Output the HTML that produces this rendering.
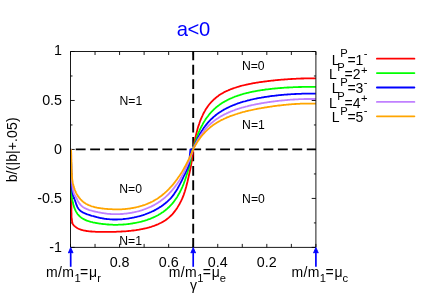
<!DOCTYPE html>
<html lang="en"><head><meta charset="utf-8"><title>a&lt;0</title>
<style>html,body{margin:0;padding:0;background:#fff;overflow:hidden}body{width:432px;height:302px;position:relative}</style></head>
<body>
<svg width="432" height="302" viewBox="0 0 432 302" style="position:absolute;left:0;top:0;display:block;will-change:transform">
<path d="M315.90,247.4 v-3.5 M315.90,51.5 v3.5 M291.36,247.4 v-3.5 M291.36,51.5 v3.5 M266.82,247.4 v-3.5 M266.82,51.5 v3.5 M242.28,247.4 v-3.5 M242.28,51.5 v3.5 M217.74,247.4 v-3.5 M217.74,51.5 v3.5 M193.20,247.4 v-3.5 M193.20,51.5 v3.5 M168.66,247.4 v-3.5 M168.66,51.5 v3.5 M144.12,247.4 v-3.5 M144.12,51.5 v3.5 M119.58,247.4 v-3.5 M119.58,51.5 v3.5 M95.04,247.4 v-3.5 M95.04,51.5 v3.5 M70.50,247.4 v-3.5 M70.50,51.5 v3.5 M70.5,247.40 h4.2 M315.9,247.40 h-4.2 M70.5,222.91 h2 M315.9,222.91 h-2 M70.5,198.43 h4.2 M315.9,198.43 h-4.2 M70.5,173.94 h2 M315.9,173.94 h-2 M70.5,149.45 h4.2 M315.9,149.45 h-4.2 M70.5,124.96 h2 M315.9,124.96 h-2 M70.5,100.47 h4.2 M315.9,100.47 h-4.2 M70.5,75.99 h2 M315.9,75.99 h-2 M70.5,51.50 h4.2 M315.9,51.50 h-4.2" fill="none" stroke="#000" stroke-width="0.9"/>
<g fill="none" stroke="#000" stroke-width="1.9">
<path d="M70.5,149.4 H315.9" stroke-dasharray="9.87 4.57" stroke-dashoffset="9.2"/>
<path d="M193.2,247.4 V51.5" stroke-dasharray="9.87 4.57" stroke-dashoffset="0.55"/>
</g>
<g fill="none" stroke-width="1.8" stroke-linejoin="round" stroke-linecap="butt">
<path stroke="#ff0000" d="M70.9,149.3 L71.1,150.8 L71.2,153.3 L71.2,155.7 L71.2,158.0 L71.2,160.3 L71.2,162.5 L71.2,164.6 L71.2,166.6 L71.2,168.6 L71.2,170.5 L71.2,172.3 L71.2,174.1 L71.2,175.8 L71.2,177.4 L71.2,179.0 L71.2,180.5 L71.3,182.0 L71.3,183.4 L71.3,184.8 L71.3,186.1 L71.3,187.3 L71.3,188.6 L71.3,189.8 L71.3,191.0 L71.3,192.2 L71.3,193.5 L71.3,194.7 L71.3,196.0 L71.3,197.3 L71.4,198.7 L71.4,200.0 L71.4,201.4 L71.4,202.8 L71.4,204.3 L71.4,205.7 L71.4,207.1 L71.4,208.5 L71.4,209.8 L71.4,211.0 L71.4,212.1 L71.5,213.1 L71.5,214.0 L71.5,214.8 L71.5,216.0 L71.5,216.8 L71.5,217.5 L71.7,218.1 L71.8,218.8 L71.9,219.4 L71.9,220.1 L72.0,220.8 L72.1,221.5 L72.2,222.1 L72.4,222.8 L72.5,223.3 L72.7,223.9 L73.0,224.3 L73.3,224.8 L73.7,225.2 L74.0,225.6 L74.5,226.0 L74.9,226.3 L75.2,226.6 L75.7,227.0 L76.1,227.3 L76.5,227.6 L77.0,227.9 L77.5,228.2 L78.0,228.5 L78.6,228.8 L79.1,229.0 L79.6,229.2 L80.2,229.4 L80.8,229.7 L81.4,229.9 L82.1,230.0 L82.6,230.2 L83.2,230.3 L83.8,230.5 L84.5,230.6 L85.2,230.7 L85.9,230.9 L86.6,231.0 L87.4,231.1 L88.2,231.2 L88.9,231.3 L89.5,231.3 L90.2,231.4 L90.9,231.5 L91.7,231.5 L92.4,231.6 L93.2,231.6 L94.0,231.7 L94.9,231.7 L95.8,231.8 L96.7,231.8 L97.6,231.8 L98.6,231.9 L99.6,231.9 L100.3,231.9 L101.0,231.9 L101.7,231.9 L102.4,231.9 L103.2,231.9 L104.0,231.9 L104.8,231.9 L105.6,231.9 L106.4,231.9 L107.3,231.9 L108.2,231.9 L109.0,231.9 L110.0,231.9 L110.9,231.9 L111.9,231.9 L112.8,231.8 L113.8,231.8 L114.9,231.8 L115.9,231.8 L117.0,231.7 L118.1,231.7 L119.2,231.6 L120.4,231.6 L121.6,231.5 L122.8,231.4 L124.0,231.4 L125.3,231.3 L126.6,231.2 L127.2,231.1 L127.9,231.1 L128.6,231.0 L129.3,230.9 L130.0,230.9 L130.7,230.8 L131.4,230.7 L132.1,230.6 L132.8,230.5 L133.5,230.5 L134.3,230.4 L135.0,230.3 L135.8,230.2 L136.6,230.0 L137.3,229.9 L138.1,229.8 L138.9,229.7 L139.7,229.5 L140.5,229.4 L141.4,229.2 L142.2,229.1 L143.0,228.9 L143.9,228.7 L144.8,228.5 L145.6,228.3 L146.5,228.1 L147.4,227.9 L148.3,227.6 L149.2,227.4 L150.1,227.1 L151.1,226.8 L152.0,226.5 L153.0,226.2 L154.0,225.9 L154.9,225.5 L155.9,225.1 L156.9,224.7 L158.0,224.3 L159.0,223.8 L160.0,223.3 L161.1,222.8 L162.1,222.2 L163.2,221.6 L164.3,220.9 L165.4,220.2 L166.5,219.4 L167.6,218.6 L168.8,217.6 L169.9,216.6 L171.1,215.5 L172.3,214.3 L173.5,212.9 L174.7,211.4 L175.9,209.8 L177.2,207.9 L178.4,205.9 L179.7,203.7 L181.0,201.2 L182.3,198.4 L183.6,195.1 L184.9,191.3 L186.2,186.8 L187.6,181.3 L189.0,175.0 L190.4,168.8 L191.8,161.0 L193.2,149.3 L194.0,144.8 L194.7,140.8 L195.5,137.1 L196.3,133.8 L197.1,130.8 L197.8,128.1 L198.6,125.6 L199.4,123.3 L200.1,121.1 L200.9,119.2 L201.7,117.3 L202.5,115.6 L203.2,114.0 L204.0,112.5 L204.8,111.1 L205.5,109.8 L206.3,108.6 L207.1,107.4 L207.9,106.3 L208.6,105.3 L209.4,104.3 L210.2,103.3 L210.9,102.5 L211.7,101.6 L212.5,100.8 L213.2,100.1 L214.0,99.3 L214.8,98.7 L215.6,98.0 L216.3,97.4 L217.1,96.8 L217.9,96.2 L218.6,95.6 L219.4,95.1 L220.2,94.6 L221.0,94.1 L221.7,93.6 L222.5,93.2 L223.3,92.7 L224.0,92.3 L224.8,91.9 L225.6,91.5 L226.4,91.2 L227.1,90.8 L227.9,90.5 L228.7,90.1 L229.4,89.8 L230.2,89.5 L231.0,89.2 L231.8,88.9 L232.5,88.6 L233.3,88.3 L234.1,88.0 L234.8,87.8 L235.6,87.5 L236.4,87.3 L237.2,87.0 L237.9,86.8 L238.7,86.6 L239.5,86.4 L240.2,86.1 L241.0,85.9 L241.8,85.7 L242.5,85.5 L243.3,85.3 L244.1,85.2 L244.9,85.0 L245.6,84.8 L246.4,84.6 L247.2,84.5 L247.9,84.3 L248.7,84.1 L249.5,84.0 L250.3,83.8 L251.0,83.7 L251.8,83.5 L252.6,83.4 L253.3,83.2 L254.1,83.1 L254.9,83.0 L255.7,82.8 L256.4,82.7 L257.2,82.6 L258.0,82.5 L258.7,82.3 L259.5,82.2 L260.3,82.1 L261.1,82.0 L261.8,81.9 L262.6,81.8 L263.4,81.7 L264.1,81.6 L264.9,81.5 L265.7,81.4 L266.5,81.3 L267.2,81.2 L268.0,81.1 L268.8,81.0 L269.5,80.9 L270.3,80.8 L271.1,80.7 L271.8,80.6 L272.6,80.6 L273.4,80.5 L274.2,80.4 L274.9,80.3 L275.7,80.2 L276.5,80.2 L277.2,80.1 L278.0,80.0 L278.8,79.9 L279.6,79.9 L280.3,79.8 L281.1,79.7 L281.9,79.7 L282.6,79.6 L283.4,79.6 L284.2,79.5 L285.0,79.4 L285.7,79.4 L286.5,79.3 L287.3,79.3 L288.0,79.2 L288.8,79.2 L289.6,79.1 L290.4,79.1 L291.1,79.0 L291.9,79.0 L292.7,78.9 L293.4,78.9 L294.2,78.8 L295.0,78.8 L295.8,78.8 L296.5,78.7 L297.3,78.7 L298.1,78.7 L298.8,78.6 L299.6,78.6 L300.4,78.6 L301.1,78.5 L301.9,78.5 L302.7,78.5 L303.5,78.5 L304.2,78.4 L305.0,78.4 L305.8,78.4 L306.5,78.4 L307.3,78.4 L308.1,78.4 L308.9,78.4 L309.6,78.4 L310.4,78.4 L311.2,78.4 L311.9,78.4 L312.7,78.4 L313.5,78.4 L314.3,78.4 L315.0,78.4 L315.8,78.4 L315.8,78.4"/>
<path stroke="#00ff00" d="M70.9,149.3 L71.1,150.2 L71.1,151.5 L71.1,152.9 L71.1,153.6 L71.1,154.3 L71.1,155.1 L71.1,155.8 L71.1,156.6 L71.1,157.4 L71.1,158.2 L71.1,158.9 L71.1,159.7 L71.1,160.5 L71.1,161.3 L71.2,162.1 L71.2,162.9 L71.2,163.7 L71.2,164.5 L71.2,165.3 L71.2,166.1 L71.2,166.9 L71.2,167.6 L71.2,168.4 L71.2,169.2 L71.2,169.9 L71.2,170.7 L71.2,171.4 L71.2,172.1 L71.2,172.8 L71.3,173.5 L71.3,174.2 L71.3,175.6 L71.3,176.9 L71.3,178.2 L71.3,179.4 L71.3,180.6 L71.4,181.8 L71.4,182.9 L71.4,183.9 L71.4,184.9 L71.4,185.9 L71.4,186.8 L71.5,187.6 L71.5,188.4 L71.5,189.2 L71.5,189.9 L71.6,190.9 L71.6,191.8 L71.6,192.7 L71.7,193.4 L71.7,194.1 L71.8,195.0 L71.8,195.8 L71.9,196.5 L71.9,197.1 L72.0,197.9 L72.1,198.5 L72.2,199.2 L72.3,199.8 L72.4,200.4 L72.5,201.0 L72.6,201.6 L72.8,202.2 L72.9,202.8 L73.1,203.4 L73.2,204.1 L73.4,204.7 L73.6,205.4 L73.8,206.0 L74.0,206.7 L74.2,207.4 L74.4,207.9 L74.6,208.4 L74.8,208.9 L75.0,209.4 L75.2,209.9 L75.4,210.4 L75.7,210.9 L75.9,211.4 L76.2,211.9 L76.5,212.4 L76.8,212.9 L77.1,213.3 L77.4,213.8 L77.7,214.2 L78.1,214.7 L78.5,215.1 L78.9,215.5 L79.3,215.9 L79.7,216.4 L80.2,216.8 L80.6,217.1 L81.1,217.5 L81.7,217.9 L82.2,218.3 L82.8,218.6 L83.2,218.9 L83.7,219.1 L84.2,219.4 L84.7,219.6 L85.2,219.9 L85.7,220.1 L86.2,220.4 L86.8,220.6 L87.4,220.8 L88.0,221.0 L88.7,221.2 L89.3,221.4 L90.0,221.6 L90.7,221.8 L91.4,222.0 L92.2,222.2 L92.9,222.4 L93.8,222.6 L94.6,222.7 L95.5,222.9 L96.1,223.0 L96.7,223.1 L97.3,223.2 L97.9,223.3 L98.6,223.4 L99.2,223.5 L99.9,223.6 L100.6,223.7 L101.3,223.8 L102.1,223.9 L102.8,224.0 L103.6,224.1 L104.4,224.2 L105.2,224.2 L106.0,224.3 L106.9,224.4 L107.7,224.5 L108.6,224.5 L109.5,224.6 L110.4,224.6 L111.4,224.7 L112.3,224.7 L113.3,224.8 L114.4,224.8 L115.4,224.8 L116.5,224.8 L117.5,224.8 L118.7,224.7 L119.8,224.7 L121.0,224.6 L122.2,224.6 L123.4,224.5 L124.6,224.4 L125.9,224.3 L126.6,224.2 L127.2,224.1 L127.9,224.1 L128.6,224.0 L129.3,223.9 L130.0,223.8 L130.7,223.7 L131.4,223.6 L132.1,223.5 L132.8,223.4 L133.5,223.2 L134.3,223.1 L135.0,223.0 L135.8,222.8 L136.6,222.7 L137.3,222.5 L138.1,222.3 L138.9,222.2 L139.7,222.0 L140.5,221.8 L141.4,221.6 L142.2,221.3 L143.0,221.1 L143.9,220.9 L144.8,220.6 L145.6,220.3 L146.5,220.1 L147.4,219.8 L148.3,219.4 L149.2,219.1 L150.1,218.8 L151.1,218.4 L152.0,218.0 L153.0,217.6 L154.0,217.2 L154.9,216.7 L155.9,216.2 L156.9,215.7 L158.0,215.2 L159.0,214.6 L160.0,214.0 L161.1,213.3 L162.1,212.6 L163.2,211.9 L164.3,211.1 L165.4,210.2 L166.5,209.3 L167.6,208.3 L168.8,207.3 L169.9,206.1 L171.1,204.9 L172.3,203.6 L173.5,202.1 L174.7,200.5 L175.9,198.8 L177.2,196.9 L178.4,194.8 L179.7,192.5 L181.0,189.9 L182.3,187.1 L183.6,184.0 L184.9,180.5 L186.2,176.5 L187.6,172.0 L189.0,167.7 L190.4,161.8 L191.8,149.3 L193.2,149.3 L194.0,146.4 L194.7,143.7 L195.5,141.2 L196.3,138.9 L197.1,136.7 L197.8,134.7 L198.6,132.7 L199.4,130.9 L200.1,129.2 L200.9,127.6 L201.7,126.0 L202.5,124.6 L203.2,123.2 L204.0,121.9 L204.8,120.6 L205.5,119.4 L206.3,118.3 L207.1,117.2 L207.9,116.2 L208.6,115.2 L209.4,114.2 L210.2,113.3 L210.9,112.5 L211.7,111.6 L212.5,110.8 L213.2,110.1 L214.0,109.3 L214.8,108.6 L215.6,107.9 L216.3,107.3 L217.1,106.6 L217.9,106.0 L218.6,105.5 L219.4,104.9 L220.2,104.3 L221.0,103.8 L221.7,103.3 L222.5,102.8 L223.3,102.3 L224.0,101.9 L224.8,101.4 L225.6,101.0 L226.4,100.6 L227.1,100.2 L227.9,99.8 L228.7,99.4 L229.4,99.0 L230.2,98.7 L231.0,98.3 L231.8,98.0 L232.5,97.7 L233.3,97.3 L234.1,97.0 L234.8,96.7 L235.6,96.5 L236.4,96.2 L237.2,95.9 L237.9,95.6 L238.7,95.4 L239.5,95.1 L240.2,94.9 L241.0,94.6 L241.8,94.4 L242.5,94.2 L243.3,94.0 L244.1,93.7 L244.9,93.5 L245.6,93.3 L246.4,93.1 L247.2,92.9 L247.9,92.8 L248.7,92.6 L249.5,92.4 L250.3,92.2 L251.0,92.0 L251.8,91.9 L252.6,91.7 L253.3,91.6 L254.1,91.4 L254.9,91.3 L255.7,91.1 L256.4,91.0 L257.2,90.8 L258.0,90.7 L258.7,90.6 L259.5,90.5 L260.3,90.3 L261.1,90.2 L261.8,90.1 L262.6,90.0 L263.4,89.9 L264.1,89.8 L264.9,89.6 L265.7,89.5 L266.5,89.4 L267.2,89.3 L268.0,89.3 L268.8,89.2 L269.5,89.1 L270.3,89.0 L271.1,88.9 L271.8,88.8 L272.6,88.7 L273.4,88.6 L274.2,88.6 L274.9,88.5 L275.7,88.4 L276.5,88.3 L277.2,88.3 L278.0,88.2 L278.8,88.1 L279.6,88.1 L280.3,88.0 L281.1,88.0 L281.9,87.9 L282.6,87.8 L283.4,87.8 L284.2,87.7 L285.0,87.7 L285.7,87.6 L286.5,87.6 L287.3,87.5 L288.0,87.5 L288.8,87.5 L289.6,87.4 L290.4,87.4 L291.1,87.3 L291.9,87.3 L292.7,87.3 L293.4,87.2 L294.2,87.2 L295.0,87.2 L295.8,87.1 L296.5,87.1 L297.3,87.1 L298.1,87.1 L298.8,87.0 L299.6,87.0 L300.4,87.0 L301.1,87.0 L301.9,86.9 L302.7,86.9 L303.5,86.9 L304.2,86.9 L305.0,86.9 L305.8,86.9 L306.5,86.9 L307.3,86.8 L308.1,86.8 L308.9,86.8 L309.6,86.8 L310.4,86.8 L311.2,86.8 L311.9,86.8 L312.7,86.8 L313.5,86.8 L314.3,86.8 L315.0,86.8 L315.8,86.8 L315.8,86.8"/>
<path stroke="#0000ff" d="M70.9,149.3 L71.0,150.0 L71.0,150.8 L71.0,151.6 L71.0,152.5 L71.0,153.4 L71.0,154.3 L71.0,155.3 L71.0,156.3 L71.1,157.3 L71.1,158.0 L71.1,158.7 L71.1,159.5 L71.1,160.2 L71.1,160.9 L71.1,161.6 L71.1,162.3 L71.1,163.1 L71.1,163.8 L71.2,164.5 L71.2,165.2 L71.2,166.0 L71.2,166.7 L71.2,167.4 L71.2,168.1 L71.2,168.8 L71.3,169.5 L71.3,170.2 L71.3,170.9 L71.3,171.6 L71.3,172.6 L71.3,173.6 L71.4,174.6 L71.4,175.6 L71.4,176.5 L71.5,177.5 L71.5,178.4 L71.5,179.3 L71.5,180.1 L71.6,181.0 L71.6,181.8 L71.7,182.6 L71.7,183.4 L71.7,184.2 L71.8,184.9 L71.8,185.6 L71.9,186.3 L71.9,187.0 L72.0,187.8 L72.0,188.7 L72.1,189.4 L72.2,190.2 L72.3,190.9 L72.3,191.6 L72.4,192.2 L72.5,193.0 L72.7,193.7 L72.8,194.3 L72.9,194.9 L73.1,195.5 L73.3,196.1 L73.5,196.6 L73.8,197.2 L74.0,197.7 L74.2,198.2 L74.4,198.8 L74.6,199.4 L74.8,199.9 L75.0,200.5 L75.2,201.2 L75.4,201.7 L75.6,202.3 L75.8,202.9 L76.0,203.5 L76.2,204.1 L76.4,204.7 L76.6,205.2 L76.8,205.8 L77.1,206.3 L77.3,206.9 L77.6,207.4 L77.8,207.8 L78.1,208.2 L78.5,208.8 L78.9,209.3 L79.3,209.7 L79.7,210.2 L80.2,210.6 L80.6,211.0 L81.1,211.4 L81.7,211.7 L82.2,212.0 L82.8,212.4 L83.4,212.7 L84.0,213.0 L84.5,213.2 L85.0,213.4 L85.5,213.6 L86.1,213.8 L86.6,214.1 L87.2,214.3 L87.8,214.5 L88.4,214.7 L89.1,214.9 L89.8,215.1 L90.4,215.3 L91.2,215.6 L91.9,215.8 L92.7,216.0 L93.5,216.2 L94.0,216.4 L94.6,216.5 L95.2,216.7 L95.8,216.9 L96.4,217.0 L97.0,217.2 L97.6,217.3 L98.2,217.5 L98.9,217.6 L99.6,217.8 L100.3,218.0 L101.0,218.1 L101.7,218.2 L102.4,218.4 L103.2,218.5 L104.0,218.6 L104.8,218.8 L105.6,218.9 L106.4,219.0 L107.3,219.1 L108.2,219.2 L109.0,219.2 L110.0,219.3 L110.9,219.4 L111.9,219.4 L112.8,219.5 L113.8,219.5 L114.9,219.5 L115.9,219.5 L117.0,219.5 L118.1,219.4 L119.2,219.4 L120.4,219.3 L121.6,219.3 L122.8,219.2 L124.0,219.0 L125.3,218.9 L125.9,218.8 L126.6,218.7 L127.2,218.6 L127.9,218.6 L128.6,218.5 L129.3,218.3 L130.0,218.2 L130.7,218.1 L131.4,218.0 L132.1,217.8 L132.8,217.7 L133.5,217.6 L134.3,217.4 L135.0,217.2 L135.8,217.1 L136.6,216.9 L137.3,216.7 L138.1,216.5 L138.9,216.3 L139.7,216.1 L140.5,215.8 L141.4,215.6 L142.2,215.3 L143.0,215.1 L143.9,214.8 L144.8,214.5 L145.6,214.2 L146.5,213.8 L147.4,213.5 L148.3,213.2 L149.2,212.8 L150.1,212.4 L151.1,212.0 L152.0,211.5 L153.0,211.1 L154.0,210.6 L154.9,210.1 L155.9,209.6 L156.9,209.0 L158.0,208.4 L159.0,207.8 L160.0,207.1 L161.1,206.5 L162.1,205.7 L163.2,204.9 L164.3,204.1 L165.4,203.2 L166.5,202.3 L167.6,201.3 L168.8,200.2 L169.9,199.1 L171.1,197.8 L172.3,196.4 L173.5,194.9 L174.7,193.1 L175.9,191.3 L177.2,189.2 L178.4,187.0 L179.7,184.6 L181.0,182.1 L182.3,179.5 L183.6,176.7 L184.9,174.0 L186.2,171.2 L187.6,168.2 L189.0,164.6 L190.4,149.3 L191.8,149.3 L193.2,149.3 L194.0,147.2 L194.7,145.2 L195.5,143.3 L196.3,141.5 L197.1,139.8 L197.8,138.1 L198.6,136.6 L199.4,135.1 L200.1,133.7 L200.9,132.4 L201.7,131.1 L202.5,129.9 L203.2,128.8 L204.0,127.6 L204.8,126.6 L205.5,125.6 L206.3,124.6 L207.1,123.6 L207.9,122.7 L208.6,121.9 L209.4,121.0 L210.2,120.2 L210.9,119.4 L211.7,118.7 L212.5,118.0 L213.2,117.3 L214.0,116.6 L214.8,116.0 L215.6,115.3 L216.3,114.7 L217.1,114.1 L217.9,113.6 L218.6,113.0 L219.4,112.5 L220.2,112.0 L221.0,111.5 L221.7,111.0 L222.5,110.5 L223.3,110.1 L224.0,109.6 L224.8,109.2 L225.6,108.8 L226.4,108.4 L227.1,108.0 L227.9,107.6 L228.7,107.2 L229.4,106.8 L230.2,106.5 L231.0,106.2 L231.8,105.8 L232.5,105.5 L233.3,105.2 L234.1,104.9 L234.8,104.6 L235.6,104.3 L236.4,104.0 L237.2,103.7 L237.9,103.4 L238.7,103.2 L239.5,102.9 L240.2,102.7 L241.0,102.4 L241.8,102.2 L242.5,101.9 L243.3,101.7 L244.1,101.5 L244.9,101.3 L245.6,101.1 L246.4,100.8 L247.2,100.6 L247.9,100.4 L248.7,100.3 L249.5,100.1 L250.3,99.9 L251.0,99.7 L251.8,99.5 L252.6,99.3 L253.3,99.2 L254.1,99.0 L254.9,98.8 L255.7,98.7 L256.4,98.5 L257.2,98.4 L258.0,98.2 L258.7,98.1 L259.5,97.9 L260.3,97.8 L261.1,97.7 L261.8,97.5 L262.6,97.4 L263.4,97.3 L264.1,97.1 L264.9,97.0 L265.7,96.9 L266.5,96.8 L267.2,96.7 L268.0,96.6 L268.8,96.5 L269.5,96.4 L270.3,96.2 L271.1,96.1 L271.8,96.0 L272.6,95.9 L273.4,95.9 L274.2,95.8 L274.9,95.7 L275.7,95.6 L276.5,95.5 L277.2,95.4 L278.0,95.3 L278.8,95.2 L279.6,95.2 L280.3,95.1 L281.1,95.0 L281.9,94.9 L282.6,94.9 L283.4,94.8 L284.2,94.7 L285.0,94.7 L285.7,94.6 L286.5,94.6 L287.3,94.5 L288.0,94.4 L288.8,94.4 L289.6,94.3 L290.4,94.3 L291.1,94.2 L291.9,94.2 L292.7,94.1 L293.4,94.1 L294.2,94.1 L295.0,94.0 L295.8,94.0 L296.5,93.9 L297.3,93.9 L298.1,93.9 L298.8,93.8 L299.6,93.8 L300.4,93.8 L301.1,93.8 L301.9,93.7 L302.7,93.7 L303.5,93.7 L304.2,93.7 L305.0,93.7 L305.8,93.7 L306.5,93.6 L307.3,93.6 L308.1,93.6 L308.9,93.6 L309.6,93.6 L310.4,93.6 L311.2,93.6 L311.9,93.6 L312.7,93.6 L313.5,93.6 L314.3,93.7 L315.0,93.7 L315.8,93.7 L315.8,93.7"/>
<path stroke="#c080ff" d="M70.9,149.3 L71.0,150.1 L71.0,150.8 L71.0,151.6 L71.0,152.4 L71.1,153.2 L71.1,154.1 L71.1,154.9 L71.1,155.6 L71.1,156.4 L71.1,157.2 L71.1,158.1 L71.2,158.9 L71.2,159.8 L71.2,160.7 L71.2,161.6 L71.2,162.5 L71.3,163.4 L71.3,164.3 L71.3,165.2 L71.3,166.1 L71.4,167.0 L71.4,167.9 L71.4,168.9 L71.4,169.8 L71.5,170.6 L71.5,171.5 L71.5,172.4 L71.6,173.3 L71.6,174.1 L71.6,175.0 L71.7,175.8 L71.7,176.6 L71.8,177.4 L71.8,178.2 L71.8,179.0 L71.9,179.7 L71.9,180.5 L72.0,181.2 L72.0,181.9 L72.1,182.6 L72.1,183.3 L72.2,183.9 L72.3,184.6 L72.3,185.4 L72.4,186.2 L72.5,187.0 L72.6,187.7 L72.7,188.4 L72.8,189.1 L72.9,189.8 L73.1,190.4 L73.2,191.0 L73.4,191.7 L73.5,192.3 L73.7,193.0 L73.9,193.5 L74.1,194.1 L74.4,194.5 L74.7,195.1 L75.0,195.6 L75.2,196.0 L75.5,196.4 L75.9,197.0 L76.1,197.4 L76.4,197.9 L76.7,198.5 L77.0,199.1 L77.2,199.6 L77.5,200.1 L77.7,200.6 L78.0,201.2 L78.3,201.7 L78.6,202.2 L78.9,202.7 L79.2,203.1 L79.5,203.6 L79.8,204.0 L80.2,204.4 L80.5,204.9 L80.9,205.2 L81.3,205.6 L81.7,206.0 L82.1,206.3 L82.5,206.7 L82.9,207.0 L83.4,207.3 L83.8,207.6 L84.3,207.9 L84.8,208.2 L85.3,208.4 L85.9,208.7 L86.4,208.9 L87.0,209.2 L87.6,209.4 L88.2,209.6 L88.9,209.9 L89.5,210.1 L90.2,210.3 L90.9,210.5 L91.7,210.7 L92.4,210.9 L93.2,211.1 L94.0,211.3 L94.9,211.5 L95.5,211.6 L96.1,211.8 L96.7,211.9 L97.3,212.0 L97.9,212.2 L98.6,212.3 L99.2,212.4 L99.9,212.6 L100.6,212.7 L101.3,212.8 L102.1,213.0 L102.8,213.1 L103.6,213.2 L104.4,213.3 L105.2,213.4 L106.0,213.6 L106.9,213.7 L107.7,213.8 L108.6,213.8 L109.5,213.9 L110.4,214.0 L111.4,214.1 L112.3,214.1 L113.3,214.1 L114.4,214.2 L115.4,214.2 L116.5,214.2 L117.5,214.2 L118.7,214.1 L119.8,214.1 L121.0,214.0 L122.2,214.0 L123.4,213.9 L124.6,213.7 L125.3,213.7 L125.9,213.6 L126.6,213.5 L127.2,213.4 L127.9,213.3 L128.6,213.2 L129.3,213.1 L130.0,213.0 L130.7,212.9 L131.4,212.8 L132.1,212.6 L132.8,212.5 L133.5,212.4 L134.3,212.2 L135.0,212.0 L135.8,211.9 L136.6,211.7 L137.3,211.5 L138.1,211.3 L138.9,211.1 L139.7,210.8 L140.5,210.6 L141.4,210.3 L142.2,210.1 L143.0,209.8 L143.9,209.5 L144.8,209.2 L145.6,208.9 L146.5,208.5 L147.4,208.2 L148.3,207.8 L149.2,207.4 L150.1,207.0 L151.1,206.6 L152.0,206.1 L153.0,205.6 L154.0,205.1 L154.9,204.6 L155.9,204.0 L156.9,203.4 L158.0,202.8 L159.0,202.1 L160.0,201.4 L161.1,200.6 L162.1,199.8 L163.2,199.0 L164.3,198.1 L165.4,197.2 L166.5,196.2 L167.6,195.1 L168.8,194.0 L169.9,192.7 L171.1,191.5 L172.3,190.1 L173.5,188.7 L174.7,187.1 L175.9,185.5 L177.2,183.7 L178.4,181.9 L179.7,179.9 L181.0,177.7 L182.3,175.4 L183.6,173.0 L184.9,170.3 L186.2,167.5 L187.6,164.4 L189.0,161.1 L190.4,157.5 L191.8,153.6 L193.2,149.3 L194.0,147.5 L194.7,145.8 L195.5,144.2 L196.3,142.7 L197.1,141.2 L197.8,139.9 L198.6,138.5 L199.4,137.3 L200.1,136.1 L200.9,134.9 L201.7,133.8 L202.5,132.8 L203.2,131.7 L204.0,130.8 L204.8,129.8 L205.5,128.9 L206.3,128.1 L207.1,127.2 L207.9,126.4 L208.6,125.7 L209.4,124.9 L210.2,124.2 L210.9,123.5 L211.7,122.8 L212.5,122.2 L213.2,121.6 L214.0,121.0 L214.8,120.4 L215.6,119.8 L216.3,119.3 L217.1,118.7 L217.9,118.2 L218.6,117.7 L219.4,117.2 L220.2,116.8 L221.0,116.3 L221.7,115.9 L222.5,115.4 L223.3,115.0 L224.0,114.6 L224.8,114.2 L225.6,113.9 L226.4,113.5 L227.1,113.1 L227.9,112.8 L228.7,112.4 L229.4,112.1 L230.2,111.8 L231.0,111.4 L231.8,111.1 L232.5,110.8 L233.3,110.5 L234.1,110.3 L234.8,110.0 L235.6,109.7 L236.4,109.4 L237.2,109.2 L237.9,108.9 L238.7,108.7 L239.5,108.4 L240.2,108.2 L241.0,108.0 L241.8,107.7 L242.5,107.5 L243.3,107.3 L244.1,107.1 L244.9,106.9 L245.6,106.7 L246.4,106.5 L247.2,106.3 L247.9,106.1 L248.7,105.9 L249.5,105.7 L250.3,105.5 L251.0,105.4 L251.8,105.2 L252.6,105.0 L253.3,104.8 L254.1,104.7 L254.9,104.5 L255.7,104.4 L256.4,104.2 L257.2,104.1 L258.0,103.9 L258.7,103.8 L259.5,103.6 L260.3,103.5 L261.1,103.4 L261.8,103.2 L262.6,103.1 L263.4,103.0 L264.1,102.8 L264.9,102.7 L265.7,102.6 L266.5,102.5 L267.2,102.3 L268.0,102.2 L268.8,102.1 L269.5,102.0 L270.3,101.9 L271.1,101.8 L271.8,101.7 L272.6,101.6 L273.4,101.5 L274.2,101.4 L274.9,101.3 L275.7,101.2 L276.5,101.1 L277.2,101.0 L278.0,100.9 L278.8,100.8 L279.6,100.7 L280.3,100.7 L281.1,100.6 L281.9,100.5 L282.6,100.4 L283.4,100.3 L284.2,100.3 L285.0,100.2 L285.7,100.1 L286.5,100.1 L287.3,100.0 L288.0,99.9 L288.8,99.9 L289.6,99.8 L290.4,99.7 L291.1,99.7 L291.9,99.6 L292.7,99.6 L293.4,99.5 L294.2,99.5 L295.0,99.4 L295.8,99.4 L296.5,99.3 L297.3,99.3 L298.1,99.3 L298.8,99.2 L299.6,99.2 L300.4,99.2 L301.1,99.1 L301.9,99.1 L302.7,99.1 L303.5,99.1 L304.2,99.0 L305.0,99.0 L305.8,99.0 L306.5,99.0 L307.3,99.0 L308.1,99.0 L308.9,99.0 L309.6,99.0 L310.4,99.0 L311.2,99.0 L311.9,99.0 L312.7,99.0 L313.5,99.0 L314.3,99.0 L315.0,99.0 L315.8,99.0 L315.8,99.0"/>
<path stroke="#ffa500" d="M70.9,149.3 L71.0,150.0 L71.1,150.7 L71.1,151.4 L71.1,152.2 L71.1,153.1 L71.1,153.8 L71.1,154.5 L71.2,155.3 L71.2,156.1 L71.2,156.9 L71.2,157.8 L71.2,158.6 L71.3,159.5 L71.3,160.4 L71.3,161.3 L71.3,162.2 L71.4,163.1 L71.4,164.0 L71.4,164.8 L71.4,165.7 L71.5,166.6 L71.5,167.5 L71.5,168.3 L71.6,169.1 L71.6,170.0 L71.6,170.8 L71.7,171.6 L71.7,172.3 L71.8,173.1 L71.8,173.8 L71.8,174.5 L71.9,175.2 L71.9,175.9 L72.0,176.7 L72.1,177.5 L72.1,178.3 L72.2,179.0 L72.3,179.7 L72.4,180.3 L72.5,180.9 L72.6,181.7 L72.7,182.4 L72.9,183.1 L73.0,183.7 L73.2,184.4 L73.3,185.1 L73.5,185.7 L73.7,186.4 L73.9,187.0 L74.0,187.6 L74.2,188.1 L74.4,188.7 L74.6,189.2 L74.8,189.8 L75.0,190.3 L75.2,190.9 L75.5,191.4 L75.7,192.0 L76.0,192.6 L76.3,193.1 L76.5,193.7 L76.8,194.2 L77.2,194.8 L77.5,195.3 L77.8,195.9 L78.2,196.4 L78.6,196.9 L78.9,197.3 L79.2,197.8 L79.5,198.2 L79.8,198.5 L80.2,198.9 L80.5,199.3 L80.9,199.7 L81.3,200.1 L81.7,200.5 L82.1,200.9 L82.5,201.2 L82.9,201.6 L83.4,202.0 L83.8,202.3 L84.3,202.7 L84.8,203.0 L85.3,203.3 L85.9,203.7 L86.4,204.0 L87.0,204.3 L87.6,204.6 L88.2,204.9 L88.9,205.2 L89.5,205.5 L90.2,205.7 L90.9,206.0 L91.7,206.3 L92.4,206.5 L93.2,206.7 L94.0,207.0 L94.6,207.1 L95.2,207.3 L95.8,207.4 L96.4,207.5 L97.0,207.7 L97.6,207.8 L98.2,207.9 L98.9,208.0 L99.6,208.1 L100.3,208.2 L101.0,208.3 L101.7,208.4 L102.4,208.5 L103.2,208.6 L104.0,208.7 L104.8,208.8 L105.6,208.9 L106.4,208.9 L107.3,209.0 L108.2,209.1 L109.0,209.1 L110.0,209.2 L110.9,209.2 L111.9,209.2 L112.8,209.3 L113.8,209.3 L114.9,209.3 L115.9,209.4 L117.0,209.4 L118.1,209.4 L119.2,209.3 L120.4,209.3 L121.6,209.3 L122.8,209.2 L124.0,209.1 L125.3,209.0 L125.9,208.9 L126.6,208.9 L127.2,208.8 L127.9,208.7 L128.6,208.6 L129.3,208.6 L130.0,208.5 L130.7,208.4 L131.4,208.2 L132.1,208.1 L132.8,208.0 L133.5,207.9 L134.3,207.7 L135.0,207.6 L135.8,207.4 L136.6,207.2 L137.3,207.0 L138.1,206.8 L138.9,206.6 L139.7,206.4 L140.5,206.2 L141.4,205.9 L142.2,205.7 L143.0,205.4 L143.9,205.1 L144.8,204.8 L145.6,204.5 L146.5,204.1 L147.4,203.8 L148.3,203.4 L149.2,203.0 L150.1,202.6 L151.1,202.1 L152.0,201.7 L153.0,201.2 L154.0,200.6 L154.9,200.1 L155.9,199.5 L156.9,198.9 L158.0,198.2 L159.0,197.5 L160.0,196.8 L161.1,196.0 L162.1,195.2 L163.2,194.3 L164.3,193.4 L165.4,192.4 L166.5,191.4 L167.6,190.3 L168.8,189.1 L169.9,187.9 L171.1,186.7 L172.3,185.3 L173.5,183.9 L174.7,182.4 L175.9,180.8 L177.2,179.1 L178.4,177.3 L179.7,175.5 L181.0,173.5 L182.3,171.4 L183.6,169.1 L184.9,166.8 L186.2,164.3 L187.6,161.6 L189.0,158.8 L190.4,155.8 L191.8,152.7 L193.2,149.3 L194.0,147.8 L194.7,146.3 L195.5,145.0 L196.3,143.7 L197.1,142.4 L197.8,141.2 L198.6,140.1 L199.4,139.0 L200.1,137.9 L200.9,136.9 L201.7,135.9 L202.5,135.0 L203.2,134.1 L204.0,133.3 L204.8,132.4 L205.5,131.6 L206.3,130.9 L207.1,130.1 L207.9,129.4 L208.6,128.7 L209.4,128.1 L210.2,127.4 L210.9,126.8 L211.7,126.2 L212.5,125.6 L213.2,125.1 L214.0,124.5 L214.8,124.0 L215.6,123.5 L216.3,123.0 L217.1,122.5 L217.9,122.1 L218.6,121.6 L219.4,121.2 L220.2,120.8 L221.0,120.3 L221.7,119.9 L222.5,119.6 L223.3,119.2 L224.0,118.8 L224.8,118.5 L225.6,118.1 L226.4,117.8 L227.1,117.4 L227.9,117.1 L228.7,116.8 L229.4,116.5 L230.2,116.2 L231.0,115.9 L231.8,115.6 L232.5,115.3 L233.3,115.1 L234.1,114.8 L234.8,114.5 L235.6,114.3 L236.4,114.0 L237.2,113.8 L237.9,113.5 L238.7,113.3 L239.5,113.1 L240.2,112.9 L241.0,112.6 L241.8,112.4 L242.5,112.2 L243.3,112.0 L244.1,111.8 L244.9,111.6 L245.6,111.4 L246.4,111.2 L247.2,111.0 L247.9,110.9 L248.7,110.7 L249.5,110.5 L250.3,110.3 L251.0,110.2 L251.8,110.0 L252.6,109.8 L253.3,109.7 L254.1,109.5 L254.9,109.3 L255.7,109.2 L256.4,109.0 L257.2,108.9 L258.0,108.7 L258.7,108.6 L259.5,108.4 L260.3,108.3 L261.1,108.2 L261.8,108.0 L262.6,107.9 L263.4,107.8 L264.1,107.6 L264.9,107.5 L265.7,107.4 L266.5,107.3 L267.2,107.1 L268.0,107.0 L268.8,106.9 L269.5,106.8 L270.3,106.7 L271.1,106.6 L271.8,106.5 L272.6,106.3 L273.4,106.2 L274.2,106.1 L274.9,106.0 L275.7,105.9 L276.5,105.8 L277.2,105.7 L278.0,105.6 L278.8,105.5 L279.6,105.5 L280.3,105.4 L281.1,105.3 L281.9,105.2 L282.6,105.1 L283.4,105.0 L284.2,104.9 L285.0,104.9 L285.7,104.8 L286.5,104.7 L287.3,104.6 L288.0,104.6 L288.8,104.5 L289.6,104.4 L290.4,104.4 L291.1,104.3 L291.9,104.2 L292.7,104.2 L293.4,104.1 L294.2,104.1 L295.0,104.0 L295.8,104.0 L296.5,103.9 L297.3,103.9 L298.1,103.8 L298.8,103.8 L299.6,103.8 L300.4,103.7 L301.1,103.7 L301.9,103.7 L302.7,103.6 L303.5,103.6 L304.2,103.6 L305.0,103.6 L305.8,103.6 L306.5,103.6 L307.3,103.6 L308.1,103.6 L308.9,103.6 L309.6,103.6 L310.4,103.6 L311.2,103.6 L311.9,103.6 L312.7,103.6 L313.5,103.6 L314.3,103.6 L315.0,103.7 L315.8,103.7 L315.8,103.7"/>
</g>
<path d="M70.5,51.5 H315.9 V247.4 H70.5 Z" fill="none" stroke="#000" stroke-width="0.9"/>
<g fill="none" stroke-width="1.8" stroke-linecap="round">
<path stroke="#ff0000" d="M376.9,58.7 H414.4"/>
<path stroke="#00ff00" d="M376.9,73.1 H414.4"/>
<path stroke="#0000ff" d="M376.9,87.5 H414.4"/>
<path stroke="#c080ff" d="M376.9,101.9 H414.4"/>
<path stroke="#ffa500" d="M376.9,116.3 H414.4"/>
</g>
<g fill="#0000ff" stroke="#0000ff">
<path d="M70.7,266.8 V251" fill="none" stroke-width="1.7"/>
<path d="M70.7,247.5 L73.05,252.9 L70.7,252.3 L68.35000000000001,252.9 Z" stroke-width="0.9" stroke-linejoin="miter"/>
<path d="M193.2,266.8 V251" fill="none" stroke-width="1.7"/>
<path d="M193.2,247.5 L195.54999999999998,252.9 L193.2,252.3 L190.85,252.9 Z" stroke-width="0.9" stroke-linejoin="miter"/>
<path d="M315.9,266.8 V251" fill="none" stroke-width="1.7"/>
<path d="M315.9,247.5 L318.25,252.9 L315.9,252.3 L313.54999999999995,252.9 Z" stroke-width="0.9" stroke-linejoin="miter"/>
</g>
<g font-family="Liberation Sans, Arial, Helvetica, sans-serif" fill="#000" font-size="14">
<text x="193.3" y="36.1" text-anchor="middle" font-size="20.2" letter-spacing="-0.45" fill="#0000ff">a&lt;0</text>
<text x="62" y="55.4" text-anchor="end" font-size="14.3">1</text>
<text x="62" y="105.4" text-anchor="end" font-size="14.3">0.5</text>
<text x="62" y="154.4" text-anchor="end" font-size="14.3">0</text>
<text x="62" y="203.4" text-anchor="end" font-size="14.3">-0.5</text>
<text x="62" y="252.4" text-anchor="end" font-size="14.3">-1</text>
<text x="119.6" y="266.8" text-anchor="middle" font-size="14.3">0.8</text>
<text x="168.7" y="266.8" text-anchor="middle" font-size="14.3">0.6</text>
<text x="217.7" y="266.8" text-anchor="middle" font-size="14.3">0.4</text>
<text x="266.8" y="266.8" text-anchor="middle" font-size="14.3">0.2</text>
<text transform="translate(17,149.8) rotate(-90)" text-anchor="middle" letter-spacing="0.12">b/(|b|+.05)</text>
<text x="119.5" y="104.9" font-size="12.2">N=1</text>
<text x="241.9" y="70.3" font-size="12.2">N=0</text>
<text x="242.1" y="128.9" font-size="12.2">N=1</text>
<text x="119.3" y="192.9" font-size="12.2">N=0</text>
<text x="242.1" y="202.9" font-size="12.2">N=0</text>
<text x="119.3" y="245.1" font-size="12.2">N=1</text>
<text x="46.1" y="276.5"><tspan letter-spacing="0.3">m/m</tspan><tspan dy="5.3" dx="0.2" font-size="11.2">1</tspan><tspan dy="-5.3" dx="-0.6">=</tspan><tspan dx="0.8">μ</tspan><tspan dy="5.3" font-size="11.2">r</tspan></text>
<text x="168.8" y="276.5"><tspan letter-spacing="0.3">m/m</tspan><tspan dy="5.3" dx="0.2" font-size="11.2">1</tspan><tspan dy="-5.3" dx="-0.6">=</tspan><tspan dx="0.8">μ</tspan><tspan dy="5.3" font-size="11.2">e</tspan></text>
<text x="291.5" y="276.5"><tspan letter-spacing="0.3">m/m</tspan><tspan dy="5.3" dx="0.2" font-size="11.2">1</tspan><tspan dy="-5.3" dx="-0.6">=</tspan><tspan dx="0.8">μ</tspan><tspan dy="5.3" font-size="11.2">c</tspan></text>
<text x="193.5" y="289.5" text-anchor="middle">γ</text>
<text x="367.6" y="64.5" text-anchor="end">L<tspan dy="-7.5" dx="0.5" font-size="11.2">P</tspan><tspan dy="7.5" dx="-0.2">=1</tspan><tspan dy="-7.8" dx="0.5" font-size="11.2">-</tspan></text>
<text x="367.6" y="78.9" text-anchor="end">L<tspan dy="-7.5" dx="0.5" font-size="11.2">P</tspan><tspan dy="7.5" dx="-0.2">=2</tspan><tspan dy="-5.3" dx="0.5" font-size="11.2">+</tspan></text>
<text x="367.6" y="93.3" text-anchor="end">L<tspan dy="-7.5" dx="0.5" font-size="11.2">P</tspan><tspan dy="7.5" dx="-0.2">=3</tspan><tspan dy="-7.8" dx="0.5" font-size="11.2">-</tspan></text>
<text x="367.6" y="107.7" text-anchor="end">L<tspan dy="-7.5" dx="0.5" font-size="11.2">P</tspan><tspan dy="7.5" dx="-0.2">=4</tspan><tspan dy="-5.3" dx="0.5" font-size="11.2">+</tspan></text>
<text x="367.6" y="122.1" text-anchor="end">L<tspan dy="-7.5" dx="0.5" font-size="11.2">P</tspan><tspan dy="7.5" dx="-0.2">=5</tspan><tspan dy="-7.8" dx="0.5" font-size="11.2">-</tspan></text>
</g>
</svg>
</body></html>
